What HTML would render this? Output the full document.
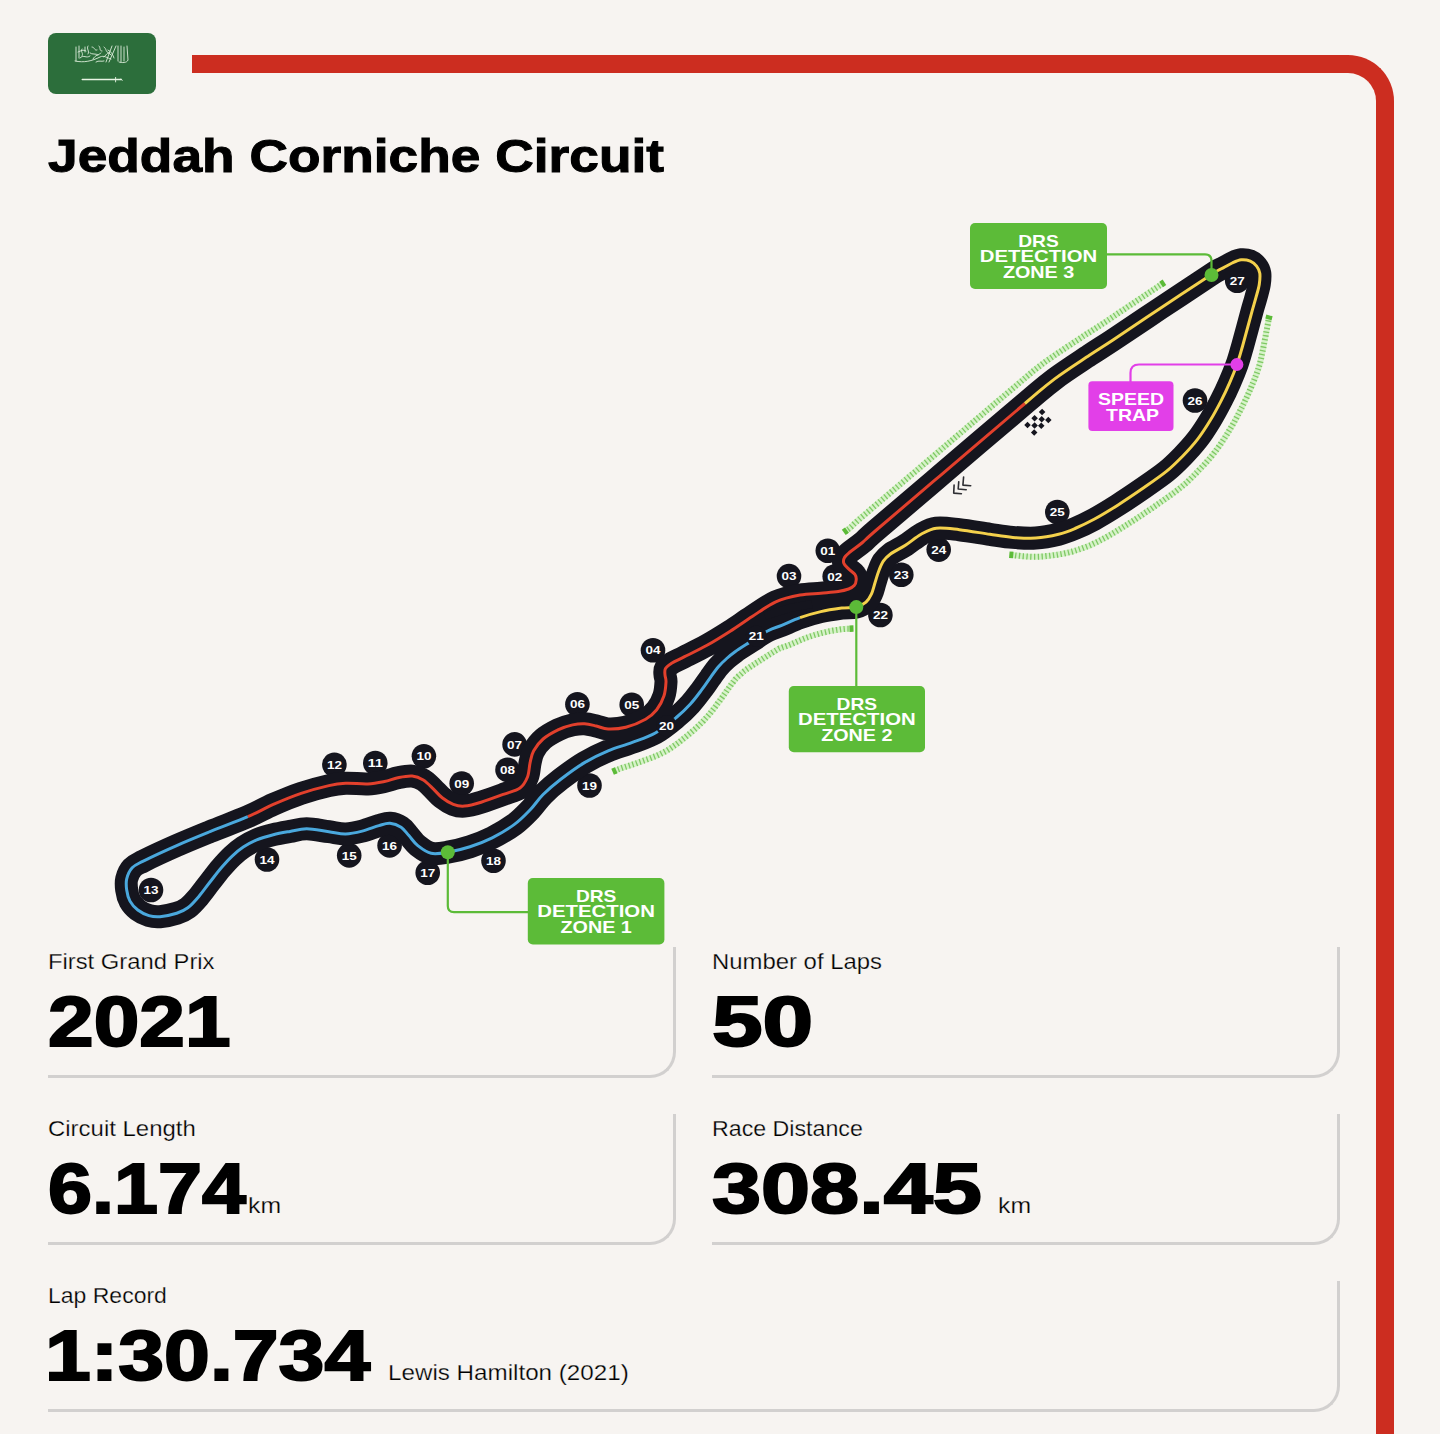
<!DOCTYPE html>
<html><head><meta charset="utf-8">
<style>
html,body{margin:0;padding:0;}
body{width:1440px;height:1434px;overflow:hidden;background:#f7f4f1;position:relative;font-family:"Liberation Sans",sans-serif;color:#000;}
.abs{position:absolute;}
#flag{left:48px;top:33px;width:108px;height:61px;border-radius:8px;background:#2c6e3b;overflow:hidden;}
#frame{left:192px;top:55px;width:1184px;height:1500px;border-top:18px solid #cc2d20;border-right:18px solid #cc2d20;border-top-right-radius:46px;}
.t{white-space:nowrap;transform-origin:0 0;}
#title{left:48px;top:126px;font-size:47px;font-weight:bold;line-height:60px;-webkit-text-stroke:1px #000;}
.box{position:absolute;width:625px;height:128px;border-right:3px solid #d2d0cf;border-bottom:3px solid #d2d0cf;border-bottom-right-radius:26px;}
.lab{font-size:22px;line-height:26px;color:#000;-webkit-text-stroke:0.25px #f7f4f1;}
.val{font-size:70px;font-weight:bold;line-height:70px;-webkit-text-stroke:2px #000;}
.unit{font-size:22px;font-weight:normal;}
.mk{font-family:"Liberation Sans",sans-serif;font-weight:bold;font-size:11.5px;fill:#fff;}
.bx{font-family:"Liberation Sans",sans-serif;font-weight:bold;font-size:17px;fill:#fff;}
.drs{position:absolute;background:#5cbb38;border-radius:5px;color:#fff;font-weight:bold;text-align:center;}
.drs span{display:block;white-space:nowrap;}
</style></head><body>
<div id="flag" class="abs"><svg width="108" height="61" viewBox="48 33 108 61" style="position:absolute;left:0;top:0">
<g fill="none" stroke="#e8f5e4" stroke-width="0.9" stroke-linecap="round" opacity="0.95">
<path d="M76,47 L76,61 M79,46 L79,58 M82,49 C80,52 84,53 82,56 M85,47 L85,52 M88,46 C86,49 90,51 88,54 M92,47 C95,47 94,51 97,50 M99,46 C101,48 99,51 102,51 M104,47 C107,49 105,52 109,53"/>
<path d="M112,46 L106,62 M116,46 L109,62 M118,46 L118,61 M121,46 L121,62 M124,47 L124,61 M127,46 L128,60 C127,63 122,63 119,62"/>
<path d="M75,61 C84,63 92,61 100,57 C104,55 107,58 111,59 M80,58 C84,54 86,59 90,56 M93,59 C95,55 99,55 101,53 M96,62 C99,60 101,62 104,61 M104,57 C107,54 108,51 111,55"/>
<path d="M78,52 C81,51 83,49 86,51 M90,53 C92,55 96,53 98,55 M108,50 C111,51 113,55 114,58"/>
</g>
<path d="M82.2,79.5 L121,79.5" stroke="#e8f5e4" stroke-width="1.3" stroke-linecap="round"/>
<path d="M115.6,77 L115.6,82.3 M121,78.6 L122.4,80.8" stroke="#e8f5e4" stroke-width="0.9"/>
</svg></div>
<div id="frame" class="abs"></div>
<div id="title" class="abs t" style="transform:scaleX(1.134)">Jeddah Corniche Circuit</div>
<svg width="1440" height="1434" viewBox="0 0 1440 1434" style="position:absolute;left:0;top:0">
<path d="M1162.8,283.4 L1158.1,286.6 L1153.6,289.6 L1149.3,292.4 L1145.1,295.2 L1140.9,298.1 L1136.6,300.9 L1132.4,303.8 L1128.1,306.6 L1124.0,309.4 L1119.9,312.1 L1116.0,314.8 L1112.3,317.3 L1108.7,319.7 L1105.4,321.9 L1102.3,323.9 L1099.6,325.7 L1097.3,327.2 L1095.2,328.6 L1093.4,329.7 L1091.7,330.8 L1090.1,331.9 L1088.5,332.9 L1086.8,333.9 L1085.0,335.1 L1083.1,336.3 L1081.1,337.7 L1078.8,339.2 L1076.2,340.9 L1073.6,342.6 L1070.8,344.5 L1067.8,346.4 L1064.8,348.4 L1061.7,350.5 L1058.6,352.6 L1055.4,354.7 L1052.3,356.9 L1049.2,359.1 L1046.1,361.2 L1043.2,363.4 L1040.6,365.4 L1038.3,367.1 L1036.3,368.7 L1034.3,370.2 L1032.4,371.8 L1030.5,373.4 L1028.5,375.1 L1026.2,377.0 L1023.6,379.3 L1020.5,381.9 L1016.8,385.1 L1012.4,388.8 L1007.2,393.2 L1001.2,398.3 L994.5,403.9 L987.4,410.0 L979.8,416.5 L972.0,423.1 L964.1,429.9 L956.2,436.6 L948.5,443.2 L941.0,449.6 L934.0,455.6 L927.5,461.1 L921.3,466.4 L915.1,471.7 L908.9,476.9 L902.9,482.1 L897.0,487.1 L891.3,491.9 L885.8,496.6 L880.6,501.0 L875.8,505.1 L871.3,508.9 L867.3,512.4 L863.8,515.4 L860.8,517.9 L858.4,520.0 L856.5,521.7 L855.0,523.1 L853.8,524.2 L852.9,525.1 L852.2,525.8 L851.8,526.2 L851.5,526.5 L851.3,526.7 L850.9,527.0 L850.2,527.6 L849.3,528.4 L848.4,529.1 L847.4,529.8 L846.4,530.6 L845.4,531.3" fill="none" stroke="#d6f2c8" stroke-width="6"/>
<path d="M1162.8,283.4 L1158.1,286.6 L1153.6,289.6 L1149.3,292.4 L1145.1,295.2 L1140.9,298.1 L1136.6,300.9 L1132.4,303.8 L1128.1,306.6 L1124.0,309.4 L1119.9,312.1 L1116.0,314.8 L1112.3,317.3 L1108.7,319.7 L1105.4,321.9 L1102.3,323.9 L1099.6,325.7 L1097.3,327.2 L1095.2,328.6 L1093.4,329.7 L1091.7,330.8 L1090.1,331.9 L1088.5,332.9 L1086.8,333.9 L1085.0,335.1 L1083.1,336.3 L1081.1,337.7 L1078.8,339.2 L1076.2,340.9 L1073.6,342.6 L1070.8,344.5 L1067.8,346.4 L1064.8,348.4 L1061.7,350.5 L1058.6,352.6 L1055.4,354.7 L1052.3,356.9 L1049.2,359.1 L1046.1,361.2 L1043.2,363.4 L1040.6,365.4 L1038.3,367.1 L1036.3,368.7 L1034.3,370.2 L1032.4,371.8 L1030.5,373.4 L1028.5,375.1 L1026.2,377.0 L1023.6,379.3 L1020.5,381.9 L1016.8,385.1 L1012.4,388.8 L1007.2,393.2 L1001.2,398.3 L994.5,403.9 L987.4,410.0 L979.8,416.5 L972.0,423.1 L964.1,429.9 L956.2,436.6 L948.5,443.2 L941.0,449.6 L934.0,455.6 L927.5,461.1 L921.3,466.4 L915.1,471.7 L908.9,476.9 L902.9,482.1 L897.0,487.1 L891.3,491.9 L885.8,496.6 L880.6,501.0 L875.8,505.1 L871.3,508.9 L867.3,512.4 L863.8,515.4 L860.8,517.9 L858.4,520.0 L856.5,521.7 L855.0,523.1 L853.8,524.2 L852.9,525.1 L852.2,525.8 L851.8,526.2 L851.5,526.5 L851.3,526.7 L850.9,527.0 L850.2,527.6 L849.3,528.4 L848.4,529.1 L847.4,529.8 L846.4,530.6 L845.4,531.3" fill="none" stroke="#7fc864" stroke-width="6" stroke-dasharray="1.3 2.5"/>
<rect x="1160.8" y="280.2" width="4" height="6.5" fill="#5cbb38" transform="rotate(146.3 1162.8 283.4)"/>
<rect x="843.4" y="528.1" width="4" height="6.5" fill="#5cbb38" transform="rotate(143.6 845.4 531.3)"/>
<path d="M1011.3,554.8 L1013.3,555.1 L1015.3,555.4 L1017.3,555.6 L1019.3,555.8 L1021.4,556.1 L1023.5,556.3 L1025.7,556.4 L1027.9,556.6 L1030.1,556.7 L1032.3,556.8 L1034.6,556.8 L1037.0,556.8 L1039.3,556.7 L1041.6,556.5 L1044.0,556.4 L1046.3,556.1 L1048.6,555.9 L1050.8,555.6 L1053.1,555.3 L1055.2,555.0 L1057.4,554.7 L1059.4,554.3 L1061.4,554.0 L1063.4,553.6 L1065.3,553.2 L1067.2,552.8 L1069.0,552.4 L1070.8,551.9 L1072.5,551.5 L1074.1,551.0 L1075.7,550.5 L1077.2,550.0 L1078.7,549.5 L1080.2,549.0 L1081.7,548.5 L1083.3,547.9 L1084.9,547.3 L1086.5,546.7 L1088.2,546.1 L1089.9,545.4 L1091.6,544.7 L1093.3,543.8 L1095.1,543.0 L1096.9,542.1 L1098.7,541.2 L1100.6,540.2 L1102.5,539.2 L1104.4,538.2 L1106.4,537.1 L1108.5,535.9 L1110.5,534.7 L1112.6,533.5 L1114.8,532.2 L1116.9,530.9 L1119.0,529.6 L1121.2,528.3 L1123.3,527.0 L1125.4,525.7 L1127.5,524.4 L1129.6,523.0 L1131.7,521.7 L1133.8,520.4 L1135.9,519.0 L1137.9,517.7 L1140.0,516.3 L1142.1,514.9 L1144.1,513.5 L1146.2,512.1 L1148.3,510.7 L1150.3,509.3 L1152.4,507.9 L1154.4,506.5 L1156.5,505.1 L1158.6,503.6 L1160.8,502.1 L1163.0,500.6 L1165.2,499.0 L1167.4,497.4 L1169.6,495.9 L1171.8,494.3 L1174.0,492.7 L1176.1,491.1 L1178.2,489.5 L1180.1,488.0 L1182.0,486.5 L1183.7,485.0 L1185.4,483.6 L1187.0,482.2 L1188.4,480.8 L1189.9,479.4 L1191.2,478.1 L1192.5,476.8 L1193.8,475.5 L1195.0,474.2 L1196.3,473.0 L1197.6,471.6 L1198.9,470.2 L1200.3,468.8 L1201.7,467.3 L1203.2,465.7 L1204.6,464.2 L1206.1,462.6 L1207.5,460.9 L1209.0,459.2 L1210.4,457.5 L1211.9,455.8 L1213.3,454.0 L1214.7,452.2 L1216.1,450.4 L1217.4,448.6 L1218.7,446.8 L1220.0,445.0 L1221.2,443.2 L1222.4,441.4 L1223.6,439.6 L1224.7,437.8 L1225.8,436.1 L1226.9,434.4 L1227.9,432.7 L1229.0,430.9 L1230.0,429.2 L1231.1,427.4 L1232.1,425.7 L1233.1,423.9 L1234.1,422.2 L1235.0,420.4 L1236.0,418.7 L1236.9,417.0 L1237.8,415.3 L1238.6,413.7 L1239.5,412.0 L1240.3,410.4 L1241.2,408.8 L1242.0,407.2 L1242.8,405.6 L1243.5,404.0 L1244.3,402.5 L1245.0,400.9 L1245.8,399.3 L1246.5,397.8 L1247.2,396.2 L1247.9,394.7 L1248.6,393.1 L1249.3,391.5 L1250.0,389.9 L1250.7,388.4 L1251.4,386.7 L1252.0,385.1 L1252.7,383.5 L1253.4,381.8 L1254.1,380.2 L1254.7,378.5 L1255.4,376.8 L1256.0,375.1 L1256.7,373.4 L1257.3,371.6 L1257.9,369.9 L1258.5,368.1 L1259.0,366.4 L1259.6,364.7 L1260.1,363.0 L1260.5,361.3 L1260.8,359.6 L1261.2,358.0 L1261.5,356.4 L1261.8,354.8 L1262.2,353.2 L1262.5,351.7 L1262.8,350.1 L1263.2,348.5 L1263.5,346.8 L1263.8,345.2 L1264.1,343.7 L1264.4,342.1 L1264.7,340.5 L1265.0,339.0 L1265.3,337.5 L1265.6,336.0 L1265.8,334.5 L1266.1,333.0 L1266.4,331.5 L1266.7,330.0 L1267.0,328.6 L1267.2,327.1 L1267.5,325.6 L1267.8,324.2 L1268.0,322.8 L1268.3,321.4 L1268.5,320.0 L1268.8,318.7 L1269.0,317.4" fill="none" stroke="#d6f2c8" stroke-width="6"/>
<path d="M1011.3,554.8 L1013.3,555.1 L1015.3,555.4 L1017.3,555.6 L1019.3,555.8 L1021.4,556.1 L1023.5,556.3 L1025.7,556.4 L1027.9,556.6 L1030.1,556.7 L1032.3,556.8 L1034.6,556.8 L1037.0,556.8 L1039.3,556.7 L1041.6,556.5 L1044.0,556.4 L1046.3,556.1 L1048.6,555.9 L1050.8,555.6 L1053.1,555.3 L1055.2,555.0 L1057.4,554.7 L1059.4,554.3 L1061.4,554.0 L1063.4,553.6 L1065.3,553.2 L1067.2,552.8 L1069.0,552.4 L1070.8,551.9 L1072.5,551.5 L1074.1,551.0 L1075.7,550.5 L1077.2,550.0 L1078.7,549.5 L1080.2,549.0 L1081.7,548.5 L1083.3,547.9 L1084.9,547.3 L1086.5,546.7 L1088.2,546.1 L1089.9,545.4 L1091.6,544.7 L1093.3,543.8 L1095.1,543.0 L1096.9,542.1 L1098.7,541.2 L1100.6,540.2 L1102.5,539.2 L1104.4,538.2 L1106.4,537.1 L1108.5,535.9 L1110.5,534.7 L1112.6,533.5 L1114.8,532.2 L1116.9,530.9 L1119.0,529.6 L1121.2,528.3 L1123.3,527.0 L1125.4,525.7 L1127.5,524.4 L1129.6,523.0 L1131.7,521.7 L1133.8,520.4 L1135.9,519.0 L1137.9,517.7 L1140.0,516.3 L1142.1,514.9 L1144.1,513.5 L1146.2,512.1 L1148.3,510.7 L1150.3,509.3 L1152.4,507.9 L1154.4,506.5 L1156.5,505.1 L1158.6,503.6 L1160.8,502.1 L1163.0,500.6 L1165.2,499.0 L1167.4,497.4 L1169.6,495.9 L1171.8,494.3 L1174.0,492.7 L1176.1,491.1 L1178.2,489.5 L1180.1,488.0 L1182.0,486.5 L1183.7,485.0 L1185.4,483.6 L1187.0,482.2 L1188.4,480.8 L1189.9,479.4 L1191.2,478.1 L1192.5,476.8 L1193.8,475.5 L1195.0,474.2 L1196.3,473.0 L1197.6,471.6 L1198.9,470.2 L1200.3,468.8 L1201.7,467.3 L1203.2,465.7 L1204.6,464.2 L1206.1,462.6 L1207.5,460.9 L1209.0,459.2 L1210.4,457.5 L1211.9,455.8 L1213.3,454.0 L1214.7,452.2 L1216.1,450.4 L1217.4,448.6 L1218.7,446.8 L1220.0,445.0 L1221.2,443.2 L1222.4,441.4 L1223.6,439.6 L1224.7,437.8 L1225.8,436.1 L1226.9,434.4 L1227.9,432.7 L1229.0,430.9 L1230.0,429.2 L1231.1,427.4 L1232.1,425.7 L1233.1,423.9 L1234.1,422.2 L1235.0,420.4 L1236.0,418.7 L1236.9,417.0 L1237.8,415.3 L1238.6,413.7 L1239.5,412.0 L1240.3,410.4 L1241.2,408.8 L1242.0,407.2 L1242.8,405.6 L1243.5,404.0 L1244.3,402.5 L1245.0,400.9 L1245.8,399.3 L1246.5,397.8 L1247.2,396.2 L1247.9,394.7 L1248.6,393.1 L1249.3,391.5 L1250.0,389.9 L1250.7,388.4 L1251.4,386.7 L1252.0,385.1 L1252.7,383.5 L1253.4,381.8 L1254.1,380.2 L1254.7,378.5 L1255.4,376.8 L1256.0,375.1 L1256.7,373.4 L1257.3,371.6 L1257.9,369.9 L1258.5,368.1 L1259.0,366.4 L1259.6,364.7 L1260.1,363.0 L1260.5,361.3 L1260.8,359.6 L1261.2,358.0 L1261.5,356.4 L1261.8,354.8 L1262.2,353.2 L1262.5,351.7 L1262.8,350.1 L1263.2,348.5 L1263.5,346.8 L1263.8,345.2 L1264.1,343.7 L1264.4,342.1 L1264.7,340.5 L1265.0,339.0 L1265.3,337.5 L1265.6,336.0 L1265.8,334.5 L1266.1,333.0 L1266.4,331.5 L1266.7,330.0 L1267.0,328.6 L1267.2,327.1 L1267.5,325.6 L1267.8,324.2 L1268.0,322.8 L1268.3,321.4 L1268.5,320.0 L1268.8,318.7 L1269.0,317.4" fill="none" stroke="#7fc864" stroke-width="6" stroke-dasharray="1.3 2.5"/>
<rect x="1009.3" y="551.6" width="4" height="6.5" fill="#5cbb38" transform="rotate(5.1 1011.3 554.8)"/>
<rect x="1267.0" y="314.1" width="4" height="6.5" fill="#5cbb38" transform="rotate(-74.6 1269.0 317.4)"/>
<path d="M614.4,770.9 L616.1,770.2 L617.8,769.5 L619.4,768.9 L621.0,768.3 L622.7,767.7 L624.5,767.1 L626.4,766.5 L628.3,765.9 L630.3,765.3 L632.4,764.6 L634.6,763.9 L636.8,763.1 L638.8,762.3 L640.9,761.6 L642.8,760.9 L644.8,760.2 L646.8,759.5 L648.9,758.7 L651.1,757.9 L653.4,757.0 L655.8,756.1 L658.2,755.0 L660.6,753.9 L663.1,752.6 L665.6,751.3 L668.0,749.9 L670.4,748.4 L672.7,746.8 L674.9,745.3 L677.1,743.7 L679.1,742.2 L681.1,740.6 L683.0,739.1 L684.8,737.7 L686.5,736.3 L688.2,734.9 L689.8,733.6 L691.3,732.3 L692.8,731.0 L694.3,729.7 L695.8,728.4 L697.1,727.1 L698.5,725.8 L699.7,724.6 L701.0,723.3 L702.2,722.1 L703.4,720.9 L704.5,719.6 L705.7,718.3 L707.0,717.0 L708.2,715.6 L709.4,714.2 L710.5,712.8 L711.6,711.4 L712.7,710.1 L713.7,708.8 L714.6,707.5 L715.6,706.3 L716.5,705.1 L717.3,703.9 L718.2,702.8 L719.1,701.6 L720.0,700.4 L720.8,699.3 L721.6,698.1 L722.4,697.0 L723.1,696.0 L723.8,695.0 L724.5,694.0 L725.1,693.1 L725.8,692.2 L726.4,691.3 L727.1,690.3 L727.8,689.4 L728.5,688.4 L729.2,687.4 L729.9,686.4 L730.6,685.4 L731.2,684.6 L731.8,683.7 L732.4,682.9 L733.0,682.2 L733.5,681.5 L733.9,680.9 L734.4,680.4 L734.9,679.9 L735.3,679.3 L735.8,678.8 L736.3,678.3 L736.8,677.8 L737.3,677.3 L737.8,676.8 L738.3,676.3 L738.9,675.8 L739.5,675.2 L740.1,674.7 L740.7,674.2 L741.3,673.7 L741.8,673.2 L742.3,672.8 L742.8,672.3 L743.3,671.9 L743.8,671.5 L744.3,671.1 L744.9,670.7 L745.4,670.3 L746.0,669.8 L746.7,669.3 L747.4,668.8 L748.0,668.4 L748.7,667.9 L749.3,667.5 L749.9,667.1 L750.5,666.7 L751.2,666.2 L752.0,665.7 L752.8,665.2 L753.8,664.6 L754.8,663.9 L756.0,663.1 L757.4,662.3 L758.9,661.3 L760.6,660.2 L762.4,659.0 L764.3,657.7 L766.3,656.5 L768.2,655.2 L770.2,654.0 L772.1,652.8 L773.9,651.6 L775.5,650.7 L776.9,649.8 L778.1,649.2 L779.0,648.7 L779.6,648.4 L780.2,648.2 L780.7,648.0 L781.2,647.8 L781.8,647.6 L782.6,647.3 L783.6,647.0 L784.9,646.6 L786.3,646.1 L787.9,645.5 L789.5,644.9 L791.2,644.2 L792.8,643.5 L794.3,642.8 L795.9,642.2 L797.4,641.5 L798.8,640.8 L800.3,640.2 L801.7,639.6 L803.1,639.0 L804.4,638.5 L805.7,638.0 L807.1,637.5 L808.5,637.0 L810.0,636.5 L811.5,636.0 L813.0,635.5 L814.6,635.0 L816.2,634.5 L817.8,634.1 L819.3,633.6 L820.9,633.2 L822.5,632.8 L824.0,632.4 L825.5,632.1 L827.0,631.7 L828.5,631.4 L830.1,631.1 L831.7,630.8 L833.3,630.5 L835.0,630.3 L836.6,630.0 L838.3,629.8 L839.9,629.5 L841.4,629.3 L842.8,629.1 L844.1,629.0 L845.1,628.9 L846.0,628.8 L846.8,628.7 L847.8,628.7 L848.9,628.7 L850.1,628.7 L851.5,628.7" fill="none" stroke="#d6f2c8" stroke-width="6"/>
<path d="M614.4,770.9 L616.1,770.2 L617.8,769.5 L619.4,768.9 L621.0,768.3 L622.7,767.7 L624.5,767.1 L626.4,766.5 L628.3,765.9 L630.3,765.3 L632.4,764.6 L634.6,763.9 L636.8,763.1 L638.8,762.3 L640.9,761.6 L642.8,760.9 L644.8,760.2 L646.8,759.5 L648.9,758.7 L651.1,757.9 L653.4,757.0 L655.8,756.1 L658.2,755.0 L660.6,753.9 L663.1,752.6 L665.6,751.3 L668.0,749.9 L670.4,748.4 L672.7,746.8 L674.9,745.3 L677.1,743.7 L679.1,742.2 L681.1,740.6 L683.0,739.1 L684.8,737.7 L686.5,736.3 L688.2,734.9 L689.8,733.6 L691.3,732.3 L692.8,731.0 L694.3,729.7 L695.8,728.4 L697.1,727.1 L698.5,725.8 L699.7,724.6 L701.0,723.3 L702.2,722.1 L703.4,720.9 L704.5,719.6 L705.7,718.3 L707.0,717.0 L708.2,715.6 L709.4,714.2 L710.5,712.8 L711.6,711.4 L712.7,710.1 L713.7,708.8 L714.6,707.5 L715.6,706.3 L716.5,705.1 L717.3,703.9 L718.2,702.8 L719.1,701.6 L720.0,700.4 L720.8,699.3 L721.6,698.1 L722.4,697.0 L723.1,696.0 L723.8,695.0 L724.5,694.0 L725.1,693.1 L725.8,692.2 L726.4,691.3 L727.1,690.3 L727.8,689.4 L728.5,688.4 L729.2,687.4 L729.9,686.4 L730.6,685.4 L731.2,684.6 L731.8,683.7 L732.4,682.9 L733.0,682.2 L733.5,681.5 L733.9,680.9 L734.4,680.4 L734.9,679.9 L735.3,679.3 L735.8,678.8 L736.3,678.3 L736.8,677.8 L737.3,677.3 L737.8,676.8 L738.3,676.3 L738.9,675.8 L739.5,675.2 L740.1,674.7 L740.7,674.2 L741.3,673.7 L741.8,673.2 L742.3,672.8 L742.8,672.3 L743.3,671.9 L743.8,671.5 L744.3,671.1 L744.9,670.7 L745.4,670.3 L746.0,669.8 L746.7,669.3 L747.4,668.8 L748.0,668.4 L748.7,667.9 L749.3,667.5 L749.9,667.1 L750.5,666.7 L751.2,666.2 L752.0,665.7 L752.8,665.2 L753.8,664.6 L754.8,663.9 L756.0,663.1 L757.4,662.3 L758.9,661.3 L760.6,660.2 L762.4,659.0 L764.3,657.7 L766.3,656.5 L768.2,655.2 L770.2,654.0 L772.1,652.8 L773.9,651.6 L775.5,650.7 L776.9,649.8 L778.1,649.2 L779.0,648.7 L779.6,648.4 L780.2,648.2 L780.7,648.0 L781.2,647.8 L781.8,647.6 L782.6,647.3 L783.6,647.0 L784.9,646.6 L786.3,646.1 L787.9,645.5 L789.5,644.9 L791.2,644.2 L792.8,643.5 L794.3,642.8 L795.9,642.2 L797.4,641.5 L798.8,640.8 L800.3,640.2 L801.7,639.6 L803.1,639.0 L804.4,638.5 L805.7,638.0 L807.1,637.5 L808.5,637.0 L810.0,636.5 L811.5,636.0 L813.0,635.5 L814.6,635.0 L816.2,634.5 L817.8,634.1 L819.3,633.6 L820.9,633.2 L822.5,632.8 L824.0,632.4 L825.5,632.1 L827.0,631.7 L828.5,631.4 L830.1,631.1 L831.7,630.8 L833.3,630.5 L835.0,630.3 L836.6,630.0 L838.3,629.8 L839.9,629.5 L841.4,629.3 L842.8,629.1 L844.1,629.0 L845.1,628.9 L846.0,628.8 L846.8,628.7 L847.8,628.7 L848.9,628.7 L850.1,628.7 L851.5,628.7" fill="none" stroke="#7fc864" stroke-width="6" stroke-dasharray="1.3 2.5"/>
<rect x="612.4" y="767.7" width="4" height="6.5" fill="#5cbb38" transform="rotate(-23.3 614.4 770.9)"/>
<rect x="849.5" y="625.4" width="4" height="6.5" fill="#5cbb38" transform="rotate(-1.7 851.5 628.7)"/>
<circle cx="827.8" cy="550.8" r="12.3" fill="#15151e"/>
<circle cx="834.7" cy="576.5" r="12.3" fill="#15151e"/>
<circle cx="789.0" cy="576.1" r="12.3" fill="#15151e"/>
<circle cx="653.0" cy="650.2" r="12.3" fill="#15151e"/>
<circle cx="631.7" cy="704.8" r="12.3" fill="#15151e"/>
<circle cx="577.4" cy="704.2" r="12.3" fill="#15151e"/>
<circle cx="514.6" cy="744.4" r="12.3" fill="#15151e"/>
<circle cx="507.5" cy="769.8" r="12.3" fill="#15151e"/>
<circle cx="461.7" cy="783.5" r="12.3" fill="#15151e"/>
<circle cx="423.9" cy="756.3" r="12.3" fill="#15151e"/>
<circle cx="375.3" cy="763.0" r="12.3" fill="#15151e"/>
<circle cx="334.4" cy="764.8" r="12.3" fill="#15151e"/>
<circle cx="151.0" cy="890.0" r="12.3" fill="#15151e"/>
<circle cx="267.0" cy="859.5" r="12.3" fill="#15151e"/>
<circle cx="349.2" cy="855.4" r="12.3" fill="#15151e"/>
<circle cx="389.6" cy="845.4" r="12.3" fill="#15151e"/>
<circle cx="427.7" cy="872.8" r="12.3" fill="#15151e"/>
<circle cx="493.5" cy="860.8" r="12.3" fill="#15151e"/>
<circle cx="589.5" cy="785.5" r="12.3" fill="#15151e"/>
<circle cx="880.4" cy="615.0" r="12.3" fill="#15151e"/>
<circle cx="901.3" cy="574.8" r="12.3" fill="#15151e"/>
<circle cx="938.7" cy="549.6" r="12.3" fill="#15151e"/>
<circle cx="1057.3" cy="512.0" r="12.3" fill="#15151e"/>
<circle cx="1195.0" cy="400.5" r="12.3" fill="#15151e"/>
<circle cx="1237.2" cy="280.7" r="12.3" fill="#15151e"/>
<path d="M1024.9,403.5 C1005.8,419.6 964.8,454.7 940.0,475.8 C915.2,496.9 889.3,518.9 876.4,530.0 C863.5,541.1 866.9,538.8 862.5,542.5 C858.1,546.2 853.0,549.5 850.0,552.0 C847.0,554.5 845.5,555.6 844.5,557.5 C843.5,559.4 843.1,561.4 843.8,563.3 C844.4,565.2 846.7,567.0 848.6,568.9 C850.5,570.8 853.6,572.5 854.9,574.4 C856.2,576.2 856.4,578.1 856.2,580.0 C856.1,581.9 855.5,584.1 854.2,585.6 C852.9,587.1 851.3,588.0 848.6,589.0 C845.9,590.0 842.8,590.8 838.2,591.5 C833.6,592.2 827.2,592.6 820.8,593.2 C814.4,593.8 807.5,593.6 800.0,595.0 C792.5,596.4 783.8,598.2 775.8,601.8 C767.8,605.4 759.8,611.6 752.2,616.5 C744.6,621.4 737.7,626.4 730.2,631.2 C722.7,636.0 714.6,641.0 707.0,645.3 C699.4,649.5 690.4,653.8 684.6,656.7 C678.8,659.7 675.2,661.0 672.0,663.0 C668.8,665.0 666.7,666.5 665.5,668.5 C664.3,670.5 664.9,672.8 665.0,675.0 C665.1,677.2 666.2,678.5 666.0,682.0 C665.8,685.5 665.5,691.2 664.0,695.8 C662.5,700.4 659.8,705.8 656.7,709.7 C653.6,713.6 650.8,716.3 645.6,719.2 C640.5,722.1 632.0,725.6 625.8,727.2 C619.5,728.8 613.0,729.2 608.1,729.0 C603.2,728.8 600.2,726.9 596.3,726.0 C592.4,725.1 588.5,723.9 584.5,723.7 C580.5,723.5 576.9,723.9 572.6,724.9 C568.3,725.9 563.4,727.2 558.5,729.6 C553.6,732.0 547.2,735.5 543.1,739.0 C539.0,742.5 535.9,746.9 533.7,750.8 C531.5,754.7 531.1,758.2 530.1,762.6 C529.1,767.0 529.2,772.8 527.5,777.0 C525.8,781.2 524.0,785.1 520.0,788.0 C516.0,790.9 509.8,792.0 503.3,794.4 C496.8,796.8 487.6,800.2 481.1,802.2 C474.6,804.2 469.0,805.7 464.4,806.1 C459.8,806.5 457.0,805.8 453.3,804.4 C449.6,803.0 445.5,800.4 442.2,797.8 C438.9,795.2 436.4,791.9 433.3,788.9 C430.2,785.9 426.8,782.1 423.3,780.0 C419.8,777.9 416.4,776.5 412.2,776.1 C407.9,775.7 402.4,776.9 397.8,777.8 C393.2,778.7 389.4,780.5 384.4,781.5 C379.4,782.5 374.3,783.6 367.8,783.9 C361.3,784.2 352.1,783.0 345.6,783.3 C339.1,783.6 336.3,783.9 328.9,785.6 C321.5,787.3 310.4,790.2 301.1,793.3 C291.8,796.4 282.2,800.5 273.3,804.4 C264.4,808.3 258.4,812.2 247.8,816.7 M247.8,816.7 C237.2,821.2 221.8,826.9 210.0,831.7 C198.2,836.5 187.8,840.7 176.7,845.6 C165.6,850.5 150.7,857.4 143.3,861.1 C135.9,864.8 135.0,864.8 132.2,867.8 C129.4,870.8 127.6,875.2 126.7,878.9 C125.8,882.6 126.2,886.3 126.7,890.0 C127.2,893.7 128.2,897.8 130.0,901.1 C131.8,904.4 134.7,907.6 137.8,910.0 C141.0,912.4 145.2,914.5 148.9,915.6 C152.6,916.7 155.4,917.1 160.0,916.7 C164.6,916.3 172.1,914.8 176.7,913.3 C181.3,911.8 184.1,910.6 187.8,907.8 C191.5,905.0 195.2,900.7 198.9,896.4 C202.6,892.1 206.3,886.7 210.0,882.0 C213.7,877.3 217.4,872.3 221.1,868.0 C224.8,863.7 228.5,859.6 232.2,856.1 C235.9,852.6 239.2,849.8 243.3,847.1 C247.4,844.4 251.7,841.9 256.7,839.8 C261.7,837.7 267.8,836.1 273.3,834.7 C278.9,833.3 284.4,832.4 290.0,831.4 C295.6,830.4 300.2,828.8 306.7,828.8 C313.2,828.8 322.4,830.9 328.9,831.7 C335.4,832.6 340.1,834.0 345.6,833.9 C351.2,833.8 356.6,832.5 362.2,831.1 C367.8,829.7 374.3,826.9 378.9,825.6 C383.5,824.3 386.3,823.0 390.0,823.3 C393.7,823.6 398.0,825.2 401.1,827.2 C404.2,829.2 406.1,832.5 408.9,835.6 C411.7,838.7 414.1,842.7 417.8,845.6 C421.5,848.5 426.1,852.2 431.1,853.3 C436.1,854.4 441.3,853.3 447.8,852.2 C454.3,851.1 462.6,849.1 470.0,846.7 C477.4,844.3 484.8,841.5 492.2,837.8 C499.6,834.1 508.1,829.0 514.4,824.4 C520.7,819.8 525.2,815.0 530.0,810.0 C534.8,805.0 538.0,799.6 543.1,794.5 C548.2,789.4 553.9,784.5 560.8,779.2 C567.7,773.9 576.6,767.3 584.5,762.6 C592.4,757.9 600.2,754.1 608.1,750.8 C616.0,747.5 623.8,745.6 631.7,742.6 C639.6,739.6 647.9,737.2 655.3,733.0 C662.7,728.8 670.5,722.3 676.3,717.5 C682.1,712.7 686.0,708.8 690.2,704.2 C694.4,699.7 698.1,694.6 701.4,690.2 C704.7,685.9 707.2,682.0 710.0,678.1 C712.8,674.2 715.6,670.1 718.4,666.8 C721.2,663.5 723.9,661.0 726.7,658.5 C729.5,656.0 731.9,654.1 735.1,651.8 C738.3,649.5 740.5,648.1 746.0,644.6 C751.5,641.1 762.1,633.9 768.1,630.7 C774.1,627.5 776.4,627.6 781.7,625.4 C787.0,623.2 793.5,620.0 800.0,617.7 M800.0,617.7 C806.5,615.4 813.8,613.2 820.8,611.6 C827.8,610.0 835.8,608.9 841.7,608.1 C847.6,607.4 852.2,608.1 856.2,607.1 C860.3,606.1 863.5,604.4 866.0,602.2 C868.5,600.0 870.0,597.1 871.5,593.9 C873.0,590.7 873.8,586.5 875.0,582.8 C876.2,579.1 877.1,575.3 878.5,571.7 C879.9,568.1 881.3,564.2 883.3,561.2 C885.3,558.3 886.8,556.7 890.5,554.0 C894.2,551.3 900.7,548.3 905.8,545.0 C910.9,541.7 916.0,537.1 921.1,534.3 C926.2,531.5 930.0,529.0 936.4,528.2 C942.8,527.4 950.4,528.7 959.3,529.7 C968.2,530.7 981.0,533.0 989.9,534.3 C998.8,535.6 1005.2,536.8 1012.8,537.4 C1020.4,538.0 1028.1,538.6 1035.7,538.1 C1043.3,537.6 1052.0,535.9 1058.6,534.3 C1065.1,532.7 1069.1,531.0 1075.0,528.5 C1080.9,526.0 1086.9,523.2 1094.1,519.3 C1101.3,515.4 1110.1,510.0 1118.1,504.9 C1126.1,499.8 1134.1,494.4 1142.2,488.8 C1150.3,483.2 1160.1,476.6 1166.7,471.2 C1173.3,465.8 1176.9,462.0 1182.1,456.7 C1187.3,451.4 1193.0,445.2 1197.7,439.1 C1202.5,433.0 1206.7,426.2 1210.6,419.8 C1214.5,413.4 1218.0,406.8 1221.2,400.6 C1224.4,394.5 1227.0,388.9 1229.6,382.9 C1232.2,376.9 1234.8,370.6 1237.0,364.5 C1239.2,358.4 1240.8,352.1 1242.6,346.0 C1244.3,339.9 1245.9,333.8 1247.5,328.0 C1249.1,322.2 1250.6,316.4 1252.0,311.3 C1253.4,306.2 1254.7,302.2 1255.9,297.7 C1257.1,293.2 1258.7,288.3 1259.3,284.2 C1259.9,280.1 1260.2,276.3 1259.8,273.3 C1259.3,270.3 1258.2,268.1 1256.6,266.1 C1255.0,264.1 1252.9,262.2 1250.3,261.1 C1247.7,260.1 1244.2,259.5 1241.2,259.8 C1238.2,260.1 1235.2,261.6 1232.2,263.0 C1229.2,264.4 1226.7,266.0 1223.2,267.9 C1219.8,269.8 1222.0,267.6 1211.5,274.4 C1201.0,281.2 1176.4,297.6 1160.0,308.5 C1143.6,319.4 1124.8,332.2 1113.0,340.0 C1101.2,347.8 1099.1,348.8 1089.4,355.3 C1079.7,361.8 1065.5,370.9 1054.7,378.9 C1044.0,386.9 1044.0,387.4 1024.9,403.5" fill="none" stroke="#15151e" stroke-width="23" stroke-linecap="round" stroke-linejoin="round"/>
<path d="M1024.9,403.5 C1005.8,419.6 964.8,454.7 940.0,475.8 C915.2,496.9 889.3,518.9 876.4,530.0 C863.5,541.1 866.9,538.8 862.5,542.5 C858.1,546.2 853.0,549.5 850.0,552.0 C847.0,554.5 845.5,555.6 844.5,557.5 C843.5,559.4 843.1,561.4 843.8,563.3 C844.4,565.2 846.7,567.0 848.6,568.9 C850.5,570.8 853.6,572.5 854.9,574.4 C856.2,576.2 856.4,578.1 856.2,580.0 C856.1,581.9 855.5,584.1 854.2,585.6 C852.9,587.1 851.3,588.0 848.6,589.0 C845.9,590.0 842.8,590.8 838.2,591.5 C833.6,592.2 827.2,592.6 820.8,593.2 C814.4,593.8 807.5,593.6 800.0,595.0 C792.5,596.4 783.8,598.2 775.8,601.8 C767.8,605.4 759.8,611.6 752.2,616.5 C744.6,621.4 737.7,626.4 730.2,631.2 C722.7,636.0 714.6,641.0 707.0,645.3 C699.4,649.5 690.4,653.8 684.6,656.7 C678.8,659.7 675.2,661.0 672.0,663.0 C668.8,665.0 666.7,666.5 665.5,668.5 C664.3,670.5 664.9,672.8 665.0,675.0 C665.1,677.2 666.2,678.5 666.0,682.0 C665.8,685.5 665.5,691.2 664.0,695.8 C662.5,700.4 659.8,705.8 656.7,709.7 C653.6,713.6 650.8,716.3 645.6,719.2 C640.5,722.1 632.0,725.6 625.8,727.2 C619.5,728.8 613.0,729.2 608.1,729.0 C603.2,728.8 600.2,726.9 596.3,726.0 C592.4,725.1 588.5,723.9 584.5,723.7 C580.5,723.5 576.9,723.9 572.6,724.9 C568.3,725.9 563.4,727.2 558.5,729.6 C553.6,732.0 547.2,735.5 543.1,739.0 C539.0,742.5 535.9,746.9 533.7,750.8 C531.5,754.7 531.1,758.2 530.1,762.6 C529.1,767.0 529.2,772.8 527.5,777.0 C525.8,781.2 524.0,785.1 520.0,788.0 C516.0,790.9 509.8,792.0 503.3,794.4 C496.8,796.8 487.6,800.2 481.1,802.2 C474.6,804.2 469.0,805.7 464.4,806.1 C459.8,806.5 457.0,805.8 453.3,804.4 C449.6,803.0 445.5,800.4 442.2,797.8 C438.9,795.2 436.4,791.9 433.3,788.9 C430.2,785.9 426.8,782.1 423.3,780.0 C419.8,777.9 416.4,776.5 412.2,776.1 C407.9,775.7 402.4,776.9 397.8,777.8 C393.2,778.7 389.4,780.5 384.4,781.5 C379.4,782.5 374.3,783.6 367.8,783.9 C361.3,784.2 352.1,783.0 345.6,783.3 C339.1,783.6 336.3,783.9 328.9,785.6 C321.5,787.3 310.4,790.2 301.1,793.3 C291.8,796.4 282.2,800.5 273.3,804.4 C264.4,808.3 258.4,812.2 247.8,816.7" fill="none" stroke="#e2402c" stroke-width="3"/>
<path d="M247.8,816.7 C237.2,821.2 221.8,826.9 210.0,831.7 C198.2,836.5 187.8,840.7 176.7,845.6 C165.6,850.5 150.7,857.4 143.3,861.1 C135.9,864.8 135.0,864.8 132.2,867.8 C129.4,870.8 127.6,875.2 126.7,878.9 C125.8,882.6 126.2,886.3 126.7,890.0 C127.2,893.7 128.2,897.8 130.0,901.1 C131.8,904.4 134.7,907.6 137.8,910.0 C141.0,912.4 145.2,914.5 148.9,915.6 C152.6,916.7 155.4,917.1 160.0,916.7 C164.6,916.3 172.1,914.8 176.7,913.3 C181.3,911.8 184.1,910.6 187.8,907.8 C191.5,905.0 195.2,900.7 198.9,896.4 C202.6,892.1 206.3,886.7 210.0,882.0 C213.7,877.3 217.4,872.3 221.1,868.0 C224.8,863.7 228.5,859.6 232.2,856.1 C235.9,852.6 239.2,849.8 243.3,847.1 C247.4,844.4 251.7,841.9 256.7,839.8 C261.7,837.7 267.8,836.1 273.3,834.7 C278.9,833.3 284.4,832.4 290.0,831.4 C295.6,830.4 300.2,828.8 306.7,828.8 C313.2,828.8 322.4,830.9 328.9,831.7 C335.4,832.6 340.1,834.0 345.6,833.9 C351.2,833.8 356.6,832.5 362.2,831.1 C367.8,829.7 374.3,826.9 378.9,825.6 C383.5,824.3 386.3,823.0 390.0,823.3 C393.7,823.6 398.0,825.2 401.1,827.2 C404.2,829.2 406.1,832.5 408.9,835.6 C411.7,838.7 414.1,842.7 417.8,845.6 C421.5,848.5 426.1,852.2 431.1,853.3 C436.1,854.4 441.3,853.3 447.8,852.2 C454.3,851.1 462.6,849.1 470.0,846.7 C477.4,844.3 484.8,841.5 492.2,837.8 C499.6,834.1 508.1,829.0 514.4,824.4 C520.7,819.8 525.2,815.0 530.0,810.0 C534.8,805.0 538.0,799.6 543.1,794.5 C548.2,789.4 553.9,784.5 560.8,779.2 C567.7,773.9 576.6,767.3 584.5,762.6 C592.4,757.9 600.2,754.1 608.1,750.8 C616.0,747.5 623.8,745.6 631.7,742.6 C639.6,739.6 647.9,737.2 655.3,733.0 C662.7,728.8 670.5,722.3 676.3,717.5 C682.1,712.7 686.0,708.8 690.2,704.2 C694.4,699.7 698.1,694.6 701.4,690.2 C704.7,685.9 707.2,682.0 710.0,678.1 C712.8,674.2 715.6,670.1 718.4,666.8 C721.2,663.5 723.9,661.0 726.7,658.5 C729.5,656.0 731.9,654.1 735.1,651.8 C738.3,649.5 740.5,648.1 746.0,644.6 C751.5,641.1 762.1,633.9 768.1,630.7 C774.1,627.5 776.4,627.6 781.7,625.4 C787.0,623.2 793.5,620.0 800.0,617.7" fill="none" stroke="#4aa8dd" stroke-width="3"/>
<path d="M800.0,617.7 C806.5,615.4 813.8,613.2 820.8,611.6 C827.8,610.0 835.8,608.9 841.7,608.1 C847.6,607.4 852.2,608.1 856.2,607.1 C860.3,606.1 863.5,604.4 866.0,602.2 C868.5,600.0 870.0,597.1 871.5,593.9 C873.0,590.7 873.8,586.5 875.0,582.8 C876.2,579.1 877.1,575.3 878.5,571.7 C879.9,568.1 881.3,564.2 883.3,561.2 C885.3,558.3 886.8,556.7 890.5,554.0 C894.2,551.3 900.7,548.3 905.8,545.0 C910.9,541.7 916.0,537.1 921.1,534.3 C926.2,531.5 930.0,529.0 936.4,528.2 C942.8,527.4 950.4,528.7 959.3,529.7 C968.2,530.7 981.0,533.0 989.9,534.3 C998.8,535.6 1005.2,536.8 1012.8,537.4 C1020.4,538.0 1028.1,538.6 1035.7,538.1 C1043.3,537.6 1052.0,535.9 1058.6,534.3 C1065.1,532.7 1069.1,531.0 1075.0,528.5 C1080.9,526.0 1086.9,523.2 1094.1,519.3 C1101.3,515.4 1110.1,510.0 1118.1,504.9 C1126.1,499.8 1134.1,494.4 1142.2,488.8 C1150.3,483.2 1160.1,476.6 1166.7,471.2 C1173.3,465.8 1176.9,462.0 1182.1,456.7 C1187.3,451.4 1193.0,445.2 1197.7,439.1 C1202.5,433.0 1206.7,426.2 1210.6,419.8 C1214.5,413.4 1218.0,406.8 1221.2,400.6 C1224.4,394.5 1227.0,388.9 1229.6,382.9 C1232.2,376.9 1234.8,370.6 1237.0,364.5 C1239.2,358.4 1240.8,352.1 1242.6,346.0 C1244.3,339.9 1245.9,333.8 1247.5,328.0 C1249.1,322.2 1250.6,316.4 1252.0,311.3 C1253.4,306.2 1254.7,302.2 1255.9,297.7 C1257.1,293.2 1258.7,288.3 1259.3,284.2 C1259.9,280.1 1260.2,276.3 1259.8,273.3 C1259.3,270.3 1258.2,268.1 1256.6,266.1 C1255.0,264.1 1252.9,262.2 1250.3,261.1 C1247.7,260.1 1244.2,259.5 1241.2,259.8 C1238.2,260.1 1235.2,261.6 1232.2,263.0 C1229.2,264.4 1226.7,266.0 1223.2,267.9 C1219.8,269.8 1222.0,267.6 1211.5,274.4 C1201.0,281.2 1176.4,297.6 1160.0,308.5 C1143.6,319.4 1124.8,332.2 1113.0,340.0 C1101.2,347.8 1099.1,348.8 1089.4,355.3 C1079.7,361.8 1065.5,370.9 1054.7,378.9 C1044.0,386.9 1044.0,387.4 1024.9,403.5" fill="none" stroke="#f4d14c" stroke-width="3"/>
<circle cx="666.6" cy="725.8" r="10.5" fill="#15151e"/>
<circle cx="756.3" cy="636.0" r="10.5" fill="#15151e"/>
<text x="820.3" y="554.9" class="mk" textLength="15" lengthAdjust="spacingAndGlyphs">01</text>
<text x="827.2" y="580.6" class="mk" textLength="15" lengthAdjust="spacingAndGlyphs">02</text>
<text x="781.5" y="580.2" class="mk" textLength="15" lengthAdjust="spacingAndGlyphs">03</text>
<text x="645.5" y="654.3" class="mk" textLength="15" lengthAdjust="spacingAndGlyphs">04</text>
<text x="624.2" y="708.9" class="mk" textLength="15" lengthAdjust="spacingAndGlyphs">05</text>
<text x="569.9" y="708.3" class="mk" textLength="15" lengthAdjust="spacingAndGlyphs">06</text>
<text x="507.1" y="748.5" class="mk" textLength="15" lengthAdjust="spacingAndGlyphs">07</text>
<text x="500.0" y="773.9" class="mk" textLength="15" lengthAdjust="spacingAndGlyphs">08</text>
<text x="454.2" y="787.6" class="mk" textLength="15" lengthAdjust="spacingAndGlyphs">09</text>
<text x="416.4" y="760.4" class="mk" textLength="15" lengthAdjust="spacingAndGlyphs">10</text>
<text x="367.8" y="767.1" class="mk" textLength="15" lengthAdjust="spacingAndGlyphs">11</text>
<text x="326.9" y="768.9" class="mk" textLength="15" lengthAdjust="spacingAndGlyphs">12</text>
<text x="143.5" y="894.1" class="mk" textLength="15" lengthAdjust="spacingAndGlyphs">13</text>
<text x="259.5" y="863.6" class="mk" textLength="15" lengthAdjust="spacingAndGlyphs">14</text>
<text x="341.7" y="859.5" class="mk" textLength="15" lengthAdjust="spacingAndGlyphs">15</text>
<text x="382.1" y="849.5" class="mk" textLength="15" lengthAdjust="spacingAndGlyphs">16</text>
<text x="420.2" y="876.9" class="mk" textLength="15" lengthAdjust="spacingAndGlyphs">17</text>
<text x="486.0" y="864.9" class="mk" textLength="15" lengthAdjust="spacingAndGlyphs">18</text>
<text x="582.0" y="789.6" class="mk" textLength="15" lengthAdjust="spacingAndGlyphs">19</text>
<text x="872.9" y="619.1" class="mk" textLength="15" lengthAdjust="spacingAndGlyphs">22</text>
<text x="893.8" y="578.9" class="mk" textLength="15" lengthAdjust="spacingAndGlyphs">23</text>
<text x="931.2" y="553.7" class="mk" textLength="15" lengthAdjust="spacingAndGlyphs">24</text>
<text x="1049.8" y="516.1" class="mk" textLength="15" lengthAdjust="spacingAndGlyphs">25</text>
<text x="1187.5" y="404.6" class="mk" textLength="15" lengthAdjust="spacingAndGlyphs">26</text>
<text x="1229.7" y="284.8" class="mk" textLength="15" lengthAdjust="spacingAndGlyphs">27</text>
<text x="659.1" y="729.9" class="mk" textLength="15" lengthAdjust="spacingAndGlyphs">20</text>
<text x="748.8" y="640.1" class="mk" textLength="15" lengthAdjust="spacingAndGlyphs">21</text>
<circle cx="1249" cy="273" r="5" fill="#15151e"/>
<path d="M765,616 L790,608 L812,604" stroke="#15151e" stroke-width="8" fill="none"/>
<!-- chevrons -->
<g fill="none" stroke="#2e2e33" stroke-width="1.6" stroke-linecap="round" stroke-linejoin="round">
<path d="M954.1,485.1 L953.7,493.1 L961.4,493.8"/>
<path d="M958.75,481.7 L958.2,489 L966.2,489.7"/>
<path d="M963.6,477 L962.9,485.1 L970.7,485.8"/>
</g>
<!-- checkered flag -->
<g fill="#15151e">
<rect x="-2.3" y="-2.3" width="4.6" height="4.6" transform="translate(1042.1 412.1) rotate(45)"/>
<rect x="-2.3" y="-2.3" width="4.6" height="4.6" transform="translate(1034.6 418.3) rotate(45)"/>
<rect x="-2.3" y="-2.3" width="4.6" height="4.6" transform="translate(1041.7 419.2) rotate(45)"/>
<rect x="-2.3" y="-2.3" width="4.6" height="4.6" transform="translate(1048.3 420) rotate(45)"/>
<rect x="-2.3" y="-2.3" width="4.6" height="4.6" transform="translate(1027.5 425) rotate(45)"/>
<rect x="-2.3" y="-2.3" width="4.6" height="4.6" transform="translate(1034.6 425.4) rotate(45)"/>
<rect x="-2.3" y="-2.3" width="4.6" height="4.6" transform="translate(1041.25 425.8) rotate(45)"/>
<rect x="-2.3" y="-2.3" width="4.6" height="4.6" transform="translate(1034.2 432.5) rotate(45)"/>
</g>
<!-- DRS connectors -->
<g fill="none" stroke="#5cbb38" stroke-width="2.2">
<path d="M1107,254.4 L1205,254.4 Q1211.5,254.4 1211.5,261 L1211.5,275"/>
<path d="M856.3,607 L856.3,687"/>
<path d="M447.8,852 L447.8,906 Q447.8,912.2 454,912.2 L528,912.2"/>
</g>
<path d="M1236.9,364.5 L1139,364.5 Q1130.5,364.5 1130.5,373 L1130.5,382" fill="none" stroke="#e23fe8" stroke-width="2.2"/>
<circle cx="1211.5" cy="275" r="7" fill="#5cbb38"/>
<circle cx="856.3" cy="607.1" r="7" fill="#5cbb38"/>
<circle cx="447.8" cy="852.2" r="7" fill="#5cbb38"/>
<circle cx="1236.9" cy="364.5" r="6.5" fill="#e23fe8"/>
<rect x="970" y="223" width="137" height="66" rx="5" fill="#5cbb38"/>
<rect x="788.8" y="686" width="136.2" height="66.2" rx="5" fill="#5cbb38"/>
<rect x="527.8" y="878" width="136.6" height="66.4" rx="5" fill="#5cbb38"/>
<rect x="1088.4" y="381.3" width="85.1" height="49.8" rx="4" fill="#e23fe8"/>
<text class="bx" x="575.9" y="901.5" textLength="40.5" lengthAdjust="spacingAndGlyphs">DRS</text>
<text class="bx" x="537.3" y="917.2" textLength="117.6" lengthAdjust="spacingAndGlyphs">DETECTION</text>
<text class="bx" x="560.5" y="933.0" textLength="71.3" lengthAdjust="spacingAndGlyphs">ZONE 1</text>
<text class="bx" x="836.6" y="709.5" textLength="40.5" lengthAdjust="spacingAndGlyphs">DRS</text>
<text class="bx" x="798.1" y="725.2" textLength="117.6" lengthAdjust="spacingAndGlyphs">DETECTION</text>
<text class="bx" x="821.2" y="741.0" textLength="71.3" lengthAdjust="spacingAndGlyphs">ZONE 2</text>
<text class="bx" x="1018.2" y="246.5" textLength="40.5" lengthAdjust="spacingAndGlyphs">DRS</text>
<text class="bx" x="979.7" y="262.2" textLength="117.6" lengthAdjust="spacingAndGlyphs">DETECTION</text>
<text class="bx" x="1002.9" y="278.0" textLength="71.3" lengthAdjust="spacingAndGlyphs">ZONE 3</text>
<text class="bx" x="1098" y="405.4" textLength="66" lengthAdjust="spacingAndGlyphs">SPEED</text>
<text class="bx" x="1106" y="421.4" textLength="53" lengthAdjust="spacingAndGlyphs">TRAP</text>

</svg>
<div class="box" style="left:48px;top:947px;"></div>
<div class="box" style="left:712px;top:947px;"></div>
<div class="box" style="left:48px;top:1114px;"></div>
<div class="box" style="left:712px;top:1114px;"></div>
<div class="box" style="left:48px;top:1281px;width:1289px;"></div>
<div class="abs t lab" id="l1" style="left:48px;top:949px;transform:scaleX(1.081)">First Grand Prix</div>
<div class="abs t val" id="v1" style="left:48px;top:987px;transform:scaleX(1.172)">2021</div>
<div class="abs t lab" id="l2" style="left:712px;top:949px;transform:scaleX(1.086)">Number of Laps</div>
<div class="abs t val" id="v2" style="left:712px;top:987px;transform:scaleX(1.3)">50</div>
<div class="abs t lab" id="l3" style="left:48px;top:1116px;transform:scaleX(1.089)">Circuit Length</div>
<div class="abs t val" id="v3" style="left:48px;top:1154px;transform:scaleX(1.13)">6.174</div>
<div class="abs t lab" id="u3" style="left:248px;top:1193px;transform:scaleX(1.127)">km</div>
<div class="abs t lab" id="l4" style="left:712px;top:1116px;transform:scaleX(1.054)">Race Distance</div>
<div class="abs t val" id="v4" style="left:712px;top:1154px;transform:scaleX(1.26)">308.45</div>
<div class="abs t lab" id="u4" style="left:998px;top:1193px;transform:scaleX(1.127)">km</div>
<div class="abs t lab" id="l5" style="left:48px;top:1283px;transform:scaleX(1.045)">Lap Record</div>
<div class="abs t val" id="v5" style="left:45px;top:1321px;transform:scaleX(1.177)">1:30.734</div>
<div class="abs t lab" id="u5" style="left:388px;top:1360px;transform:scaleX(1.10)">Lewis Hamilton (2021)</div>
</body></html>
